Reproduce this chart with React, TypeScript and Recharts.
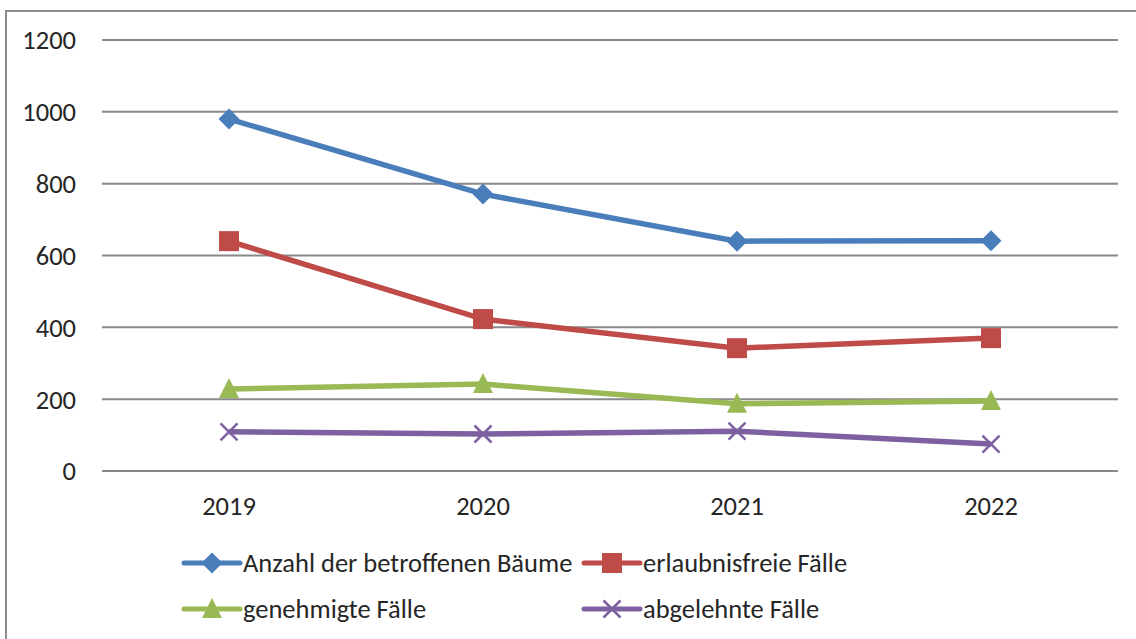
import React from 'react';
import { LineChart, Line, XAxis, YAxis, CartesianGrid } from 'recharts';

// values
const years = ['2019', '2020', '2021', '2022'];
const baeume = [980, 771, 640, 641];
const erlaubnisfrei = [640, 423, 342, 370];
const genehmigt = [228, 242, 187, 195];
const abgelehnt = [109, 103, 111, 75];
const yTicks = [0, 200, 400, 600, 800, 1000, 1200];

const FONT = "Carlito, Calibri, 'Liberation Sans', Arial, sans-serif";
const FS = 26.5;
const TEXT = '#262626';
const GRID = '#898989';

const SERIES = [
  { key: 'baeume', name: 'Anzahl der betroffenen Bäume', color: '#4A7EBB', marker: 'diamond' },
  { key: 'erlaubnisfrei', name: 'erlaubnisfreie Fälle', color: '#BE4B48', marker: 'square' },
  { key: 'genehmigt', name: 'genehmigte Fälle', color: '#98B954', marker: 'triangle' },
  { key: 'abgelehnt', name: 'abgelehnte Fälle', color: '#7D60A0', marker: 'cross' },
];

const data = years.map((y, i) => ({
  year: y,
  baeume: baeume[i],
  erlaubnisfrei: erlaubnisfrei[i],
  genehmigt: genehmigt[i],
  abgelehnt: abgelehnt[i],
}));

// ── markers ──────────────────────────────────────────────────────────────────

function Marker({ kind, cx, cy, color }: { kind: string; cx: number; cy: number; color: string }) {
  if (kind === 'diamond') {
    const r = 10.5;
    return <polygon points={`${cx},${cy - r} ${cx + r},${cy} ${cx},${cy + r} ${cx - r},${cy}`} fill={color} />;
  }
  if (kind === 'square') {
    const s = 20;
    return <rect x={cx - s / 2} y={cy - s / 2} width={s} height={s} fill={color} />;
  }
  if (kind === 'triangle') {
    return <polygon points={`${cx},${cy - 11} ${cx + 10},${cy + 9} ${cx - 10},${cy + 9}`} fill={color} />;
  }
  const r = 8.5;
  return (
    <g stroke={color} strokeWidth={2.5}>
      <line x1={cx - r} y1={cy - r} x2={cx + r} y2={cy + r} />
      <line x1={cx - r} y1={cy + r} x2={cx + r} y2={cy - r} />
    </g>
  );
}

const makeDot = (kind: string, color: string) => (p: any) =>
  <Marker key={`${kind}-${p.index}`} kind={kind} cx={p.cx} cy={p.cy} color={color} />;

// ── legend ───────────────────────────────────────────────────────────────────

function LegendBox() {
  const cols = [184, 584];
  const rows = [563, 609];
  return (
    <svg width={1136} height={639} style={{ position: 'absolute', left: 0, top: 0 }}>
      {SERIES.map((s, i) => {
        const x = cols[i % 2];
        const y = rows[Math.floor(i / 2)];
        return (
          <g key={s.key}>
            <line x1={x} y1={y} x2={x + 56} y2={y} stroke={s.color} strokeWidth={5} strokeLinecap="round" />
            <Marker kind={s.marker} cx={x + 28} cy={y} color={s.color} />
            <text x={x + 59} y={y} dy="0.35em" fontSize={FS} fontFamily={FONT} fill={TEXT}>{s.name}</text>
          </g>
        );
      })}
    </svg>
  );
}

export default function App() {
  return (
    <div style={{ position: 'fixed', left: 0, top: 0, width: 1136, height: 639, overflow: 'hidden', background: '#fff' }}>
      <div style={{
        position: 'absolute', left: 5, top: 10, width: 1160, height: 660,
        border: '2px solid #8c8c8c', boxSizing: 'border-box',
      }} />
      <div style={{ position: 'absolute', left: 0, top: 0 }}>
        <LineChart width={1136} height={639} data={data} margin={{ top: 40, right: 18, bottom: 138, left: 0 }}>
          <CartesianGrid vertical={false} stroke={GRID} strokeWidth={2} />
          <XAxis
            dataKey="year"
            height={30}
            padding={{ left: 127, right: 127 }}
            axisLine={false}
            tickLine={false}
            tickSize={0}
            tickMargin={25}
            tick={{ fontSize: FS, fontFamily: FONT, fill: TEXT }}
          />
          <YAxis
            domain={[0, 1200]}
            ticks={yTicks}
            width={102}
            axisLine={false}
            tickLine={false}
            tickSize={0}
            tickMargin={26}
            tick={{ fontSize: FS, fontFamily: FONT, fill: TEXT }}
          />
          {SERIES.map(s => (
            <Line
              key={s.key}
              dataKey={s.key}
              name={s.name}
              type="linear"
              stroke={s.color}
              strokeWidth={5.5}
              dot={makeDot(s.marker, s.color)}
              activeDot={false}
              isAnimationActive={false}
            />
          ))}
        </LineChart>
      </div>
      <LegendBox />
    </div>
  );
}
